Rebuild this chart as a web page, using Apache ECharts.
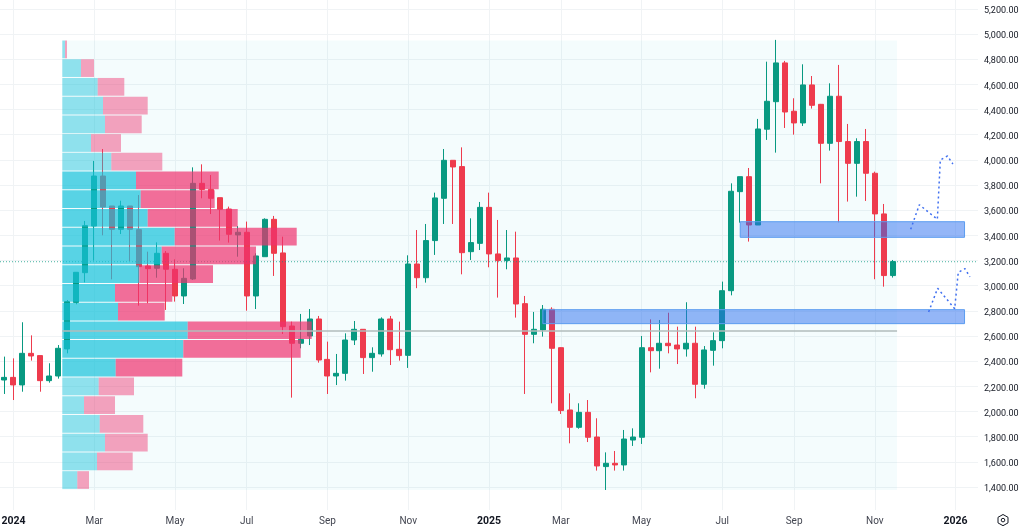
<!DOCTYPE html>
<html>
<head>
<meta charset="utf-8">
<title>Weekly chart</title>
<script src="https://cdn.jsdelivr.net/npm/echarts@6/dist/echarts.min.js"></script>
<style>
    html, body { margin: 0; padding: 0; background: #ffffff; }
    #chart { width: 1024px; height: 531px; }
</style>
</head>
<body>
<div id="chart"></div>
<script>
// weekly candles: [open, close, low, high]
var candles = [
    [2250, 2271, 2139, 2436], [2271, 2211, 2091, 2422], [2211, 2462, 2157, 2709], [2462, 2441, 2404, 2605],
    [2444, 2245, 2157, 2444], [2245, 2282, 2229, 2383], [2282, 2502, 2261, 2528], [2497, 2873, 2462, 2886],
    [2867, 3106, 2852, 3106], [3103, 3477, 3026, 3514], [3474, 3871, 3199, 3991], [3871, 3625, 3400, 4086],
    [3633, 3448, 3050, 3633], [3448, 3633, 3410, 3675], [3633, 3448, 3196, 3633], [3445, 3151, 2841, 3720],
    [3156, 3135, 2860, 3270], [3138, 3257, 3063, 3344], [3257, 3130, 2807, 3275], [3130, 2918, 2873, 3209],
    [2918, 3058, 2854, 3138], [3053, 3813, 3045, 3940], [3813, 3765, 3694, 3964], [3765, 3694, 3569, 3879],
    [3699, 3607, 3358, 3699], [3609, 3408, 3342, 3628], [3403, 3424, 3230, 3474], [3424, 2918, 2801, 3509],
    [2918, 3236, 2814, 3257], [3230, 3527, 3230, 3535], [3527, 3257, 3077, 3554], [3260, 2674, 2616, 3389],
    [2679, 2542, 2110, 2714], [2542, 2573, 2502, 2775], [2600, 2735, 2528, 2814], [2735, 2409, 2388, 2759],
    [2414, 2282, 2139, 2555], [2282, 2303, 2210, 2457], [2303, 2568, 2245, 2621], [2568, 2653, 2528, 2719],
    [2653, 2428, 2298, 2653], [2428, 2462, 2316, 2510], [2457, 2735, 2436, 2748], [2735, 2491, 2369, 2759],
    [2494, 2444, 2404, 2714], [2446, 3172, 2346, 3241], [3172, 3063, 2980, 3442], [3063, 3358, 3024, 3490],
    [3358, 3697, 3244, 3739], [3694, 3996, 3490, 4086], [3996, 3943, 3490, 3996], [3946, 3262, 3090, 4099],
    [3270, 3342, 3204, 3535], [3336, 3622, 3283, 3665], [3622, 3252, 3146, 3739], [3252, 3199, 2905, 3522],
    [3199, 3220, 3130, 3442], [3220, 2854, 2746, 3429], [2857, 2613, 2139, 2918], [2613, 2653, 2542, 2791],
    [2648, 2812, 2595, 2846], [2812, 2502, 2065, 2828], [2507, 2007, 1980, 2510], [2012, 1874, 1747, 2144],
    [1874, 1993, 1863, 2065], [1993, 1795, 1757, 2091], [1797, 1567, 1530, 1946], [1562, 1588, 1376, 1675],
    [1588, 1575, 1530, 1686], [1575, 1781, 1530, 1853], [1773, 1797, 1726, 1866], [1795, 2507, 1742, 2600],
    [2507, 2483, 2311, 2732], [2483, 2542, 2340, 2727], [2542, 2523, 2462, 2785], [2528, 2497, 2377, 2674],
    [2497, 2542, 2436, 2868], [2542, 2216, 2105, 2674], [2216, 2489, 2181, 2520], [2486, 2563, 2364, 2629],
    [2563, 2960, 2502, 3032], [2960, 3750, 2923, 3813], [3747, 3866, 3500, 3866], [3866, 3482, 3350, 3935],
    [3482, 4245, 3482, 4325], [4243, 4465, 4158, 4780], [4462, 4770, 4057, 4953], [4770, 4380, 4253, 4786],
    [4386, 4293, 4200, 4489], [4293, 4595, 4269, 4759], [4595, 4433, 4407, 4666], [4441, 4131, 3813, 4444],
    [4131, 4505, 4073, 4608], [4505, 4145, 3504, 4754], [4145, 3972, 3668, 4285], [3972, 4145, 3707, 4171],
    [4145, 3893, 3673, 4245], [3893, 3570, 3051, 3906], [3570, 3080, 2992, 3649], [3080, 3191, 3064, 3204]
];

// week slots on the time axis, the last ones are empty future weeks
var weekCount = 109;
var tickIndexes = [1, 10, 19, 27, 36, 45, 54, 62, 71, 80, 88, 97, 106];
var tickLabels = ['2024', 'Mar', 'May', 'Jul', 'Sep', 'Nov', '2025', 'Mar', 'May', 'Jul', 'Sep', 'Nov', '2026'];
var priceTicks = [1400, 1600, 1800, 2000, 2200, 2400, 2600, 2800, 3000, 3200, 3400, 3600, 3800, 4000, 4200, 4400, 4600, 4800, 5000, 5200];

// volume profile rows, top row first
var profileTop = 4948;
var profileRowSize = 148.8;
var profileUp = [2.7, 18.7, 35.4, 40.7, 42.7, 28.7, 49, 73.7, 78.4, 85.4, 112.4, 99.4, 77, 52.7, 55.7, 125.4, 121, 53.4, 36.4, 21.7, 37.4, 42.7, 34.7, 15];
var profileDown = [2, 13, 26.6, 44.7, 36.7, 30, 51, 82.7, 74, 90, 122, 94.3, 73.7, 57.3, 46.7, 124, 117.4, 66.6, 35.3, 31, 43.6, 42.7, 35.7, 11.7];
var valueAreaRows = [7, 17];
var profileSpan = [6.44, 99.48];
var pocPrice = 2640;
var lastPrice = 3190;

// drawn zones: week range and price range
var zoneA = [82, 107, 3384, 3508];
var zoneB = [60, 107, 2698, 2809];

// dotted projections: [week, price]
var pathA = [[101, 3448], [101.96, 3643], [103.97, 3527], [104.3, 3999], [105.1, 4030], [105.7, 3967]];
var pathB = [[103, 2791], [104, 2979], [105.9, 2817], [106.3, 3106], [107.05, 3135], [107.6, 3069]];

var UP = '#089981';
var DOWN = '#ee3b4d';
var FONT = 'Roboto';

var categories = [];
for (var i = 0; i < weekCount; i++) {
    categories.push(String(i));
}

var profileRows = profileUp.map(function(up, idx) {
    var high = profileTop - idx * profileRowSize;
    return [high - profileRowSize, high, up, profileDown[idx], idx];
});

function isTick(index) {
    return tickIndexes.indexOf(index) >= 0;
}

function zoneArea(zone) {
    return [{ xAxis: zone[0], yAxis: zone[2] }, { xAxis: zone[1], yAxis: zone[3] }];
}

// one row of the profile: up volume then down volume
function renderProfileRow(params, api) {
    var low = api.value(0), high = api.value(1), up = api.value(2), down = api.value(3);
    var rowIdx = api.value(4);
    var inValueArea = rowIdx >= valueAreaRows[0] && rowIdx <= valueAreaRows[1];
    var opacity = inValueArea ? 0.7 : 0.45;
    var a = api.coord([0, high]);
    var b = api.coord([up, low]);
    var c = api.coord([up + down, low]);
    var h = b[1] - a[1] - 1;
    return {
        type: 'group',
        children: [{
            type: 'rect',
            shape: { x: a[0], y: a[1], width: b[0] - a[0], height: h },
            style: { fill: 'rgba(21,194,218,' + opacity + ')' }
        }, {
            type: 'rect',
            shape: { x: b[0], y: a[1], width: c[0] - b[0], height: h },
            style: { fill: 'rgba(239,50,110,' + opacity + ')' }
        }]
    };
}

function projection(path) {
    return {
        type: 'line',
        xAxisIndex: 1,
        z: 6,
        symbol: 'none',
        silent: true,
        lineStyle: { color: '#3f6ff0', width: 1.5, type: [2, 3] },
        data: path
    };
}

var chart = echarts.init(document.getElementById('chart'));
chart.setOption({
    animation: false,
    backgroundColor: '#ffffff',
    grid: { left: 0, top: 0, width: 978, height: 510, outerBoundsMode: 'none' },
    xAxis: [{
        type: 'category',
        data: categories,
        boundaryGap: true,
        axisLine: { show: false },
        axisTick: { show: false },
        axisLabel: {
            interval: function(index) { return isTick(index); },
            margin: 6,
            fontFamily: FONT,
            fontSize: 10,
            color: '#434651',
            formatter: function(value) {
                var label = tickLabels[tickIndexes.indexOf(Number(value))];
                return /^\d+$/.test(label) ? '{year|' + label + '}' : label;
            },
            rich: {
                year: { fontFamily: FONT, fontSize: 10.5, fontWeight: 'bold', color: '#131722' }
            }
        },
        splitLine: {
            show: true,
            alignWithLabel: true,
            interval: function(index) { return isTick(index); },
            lineStyle: { color: '#f0f3f5', width: 1 }
        }
    }, {
        // fractional week positions for shading and projections
        type: 'value', show: false, min: -0.5, max: weekCount - 0.5
    }, {
        // volume scale of the profile, zero at its left edge
        type: 'value', show: false, min: -62.3, max: 915.7
    }],
    yAxis: {
        type: 'value',
        position: 'right',
        min: 1217,
        max: 5270,
        axisLine: { show: false },
        axisTick: { show: false, customValues: priceTicks },
        axisLabel: {
            customValues: priceTicks,
            margin: 6,
            verticalAlign: 'top',
            lineHeight: 4,
            fontFamily: FONT,
            fontSize: 9,
            color: '#131722',
            showMinLabel: true,
            showMaxLabel: true,
            formatter: function(value) {
                return value.toLocaleString('en-US', { minimumFractionDigits: 2 });
            }
        },
        splitLine: { show: true, lineStyle: { color: '#f0f3f5', width: 1 } }
    },
    graphic: [{
        type: 'polygon',
        shape: { points: [[1003, 514.5], [1008, 517.3], [1008, 522.9], [1003, 525.7], [998, 522.9], [998, 517.3]] },
        style: { fill: 'none', stroke: '#131722', lineWidth: 1 }
    }, {
        type: 'circle',
        shape: { cx: 1003, cy: 520.1, r: 1.8 },
        style: { fill: 'none', stroke: '#131722', lineWidth: 1 }
    }],
    series: [{
        // profile background and point of control
        type: 'line',
        xAxisIndex: 1,
        data: [],
        silent: true,
        markArea: {
            silent: true,
            z: 1,
            itemStyle: { color: 'rgba(33,190,225,0.05)' },
            data: [[
                { xAxis: profileSpan[0], yAxis: profileTop },
                { xAxis: profileSpan[1], yAxis: profileTop - profileRowSize * profileUp.length }
            ]]
        },
        markLine: {
            silent: true,
            z: 6,
            symbol: 'none',
            label: { show: false },
            lineStyle: { color: '#b2bcbb', width: 1.5, type: 'solid' },
            data: [[{ coord: [profileSpan[0], pocPrice] }, { coord: [profileSpan[1], pocPrice] }]]
        }
    }, {
        // last price
        type: 'line',
        xAxisIndex: 1,
        z: 3,
        symbol: 'none',
        silent: true,
        lineStyle: { color: UP, width: 1, type: [1, 2], opacity: 0.75 },
        data: [[-0.5, lastPrice], [weekCount - 0.5, lastPrice]]
    }, {
        type: 'candlestick',
        z: 2,
        barWidth: 5.5,
        itemStyle: {
            color: UP,
            color0: DOWN,
            borderColor: UP,
            borderColor0: DOWN,
            borderWidth: 1
        },
        data: candles,
        markArea: {
            silent: true,
            z: 5,
            itemStyle: {
                color: 'rgba(41,110,240,0.5)',
                borderColor: '#5b9cf0',
                borderWidth: 1
            },
            data: [zoneArea(zoneA), zoneArea(zoneB)]
        }
    }, {
        type: 'custom',
        xAxisIndex: 2,
        z: 4,
        silent: true,
        renderItem: renderProfileRow,
        encode: { x: [2, 3], y: [0, 1] },
        data: profileRows
    }, projection(pathA), projection(pathB)]
});
</script>
</body>
</html>
